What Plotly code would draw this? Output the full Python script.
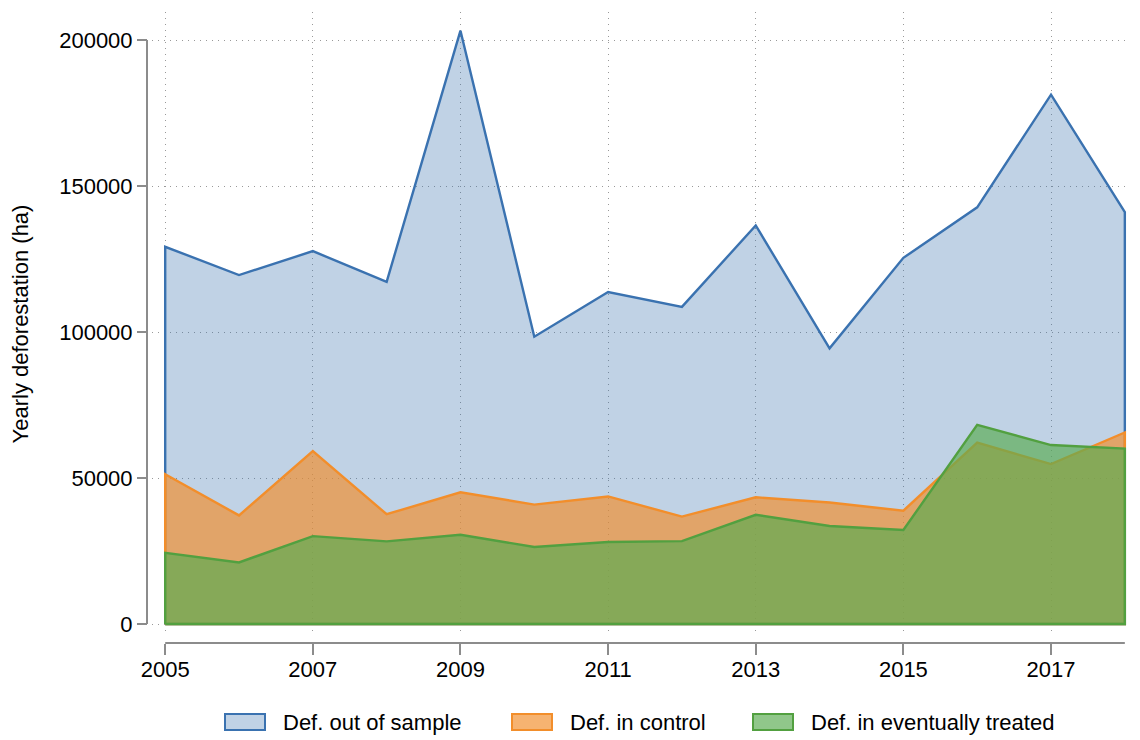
import plotly.graph_objects as go

years = list(range(2005, 2019))

# yearly deforestation (ha)
out_of_sample = [129200, 119500, 127700, 117200, 203200, 98400, 113700,
                 108600, 136500, 94400, 125400, 142700, 181300, 141100]
in_control = [51300, 37200, 59200, 37600, 45100, 40900, 43700,
              36800, 43400, 41600, 38800, 62100, 54800, 65600]
eventually_treated = [24400, 21100, 30100, 28300, 30600, 26400, 28100,
                      28400, 37400, 33600, 32200, 68200, 61300, 60100]

names = ["Def. out of sample", "Def. in control", "Def. in eventually treated"]
line_colors = ["#3A72B0", "#F28E2B", "#52A040"]
fill_colors = ["rgba(60,114,173,0.32)", "rgba(242,142,43,0.67)", "rgba(89,172,80,0.67)"]

xticks = list(range(2005, 2018, 2))
yticks = [0, 50000, 100000, 150000, 200000]

font = "Liberation Sans, Arial, sans-serif"
axis_grey = "#8C8C8C"
grid_grey = "#999999"

# page has an 8px body margin, so the figure is a bit smaller than the window
PAD = 8
W, H = 1140 - PAD, 740 - PAD
ML, MR, MT, MB = 139, 10, 4, 97


def px_x(px):
    # window pixel -> paper x
    return (px - PAD - ML) / (W - ML - MR)


def px_y(py):
    # window pixel -> paper y
    return (H - MB - (py - PAD)) / (H - MT - MB)


fig = go.Figure()
for name, vals, lc, fc in zip(names, [out_of_sample, in_control, eventually_treated],
                              line_colors, fill_colors):
    # closed outline down to zero, like a Stata area plot
    xs = [years[0]] + years + [years[-1], years[0]]
    ys = [0] + vals + [0, 0]
    fig.add_trace(go.Scatter(x=xs, y=ys, name=name, mode="lines",
                             fill="toself", fillcolor=fc, showlegend=False,
                             line=dict(color=lc, width=2.4)))

# offset axis lines
fig.add_shape(type="line", xref="paper", yref="y", x0=0, x1=0,
              y0=yticks[0], y1=yticks[-1], line=dict(color=axis_grey, width=2))
fig.add_shape(type="line", xref="x", yref="paper", x0=years[0], x1=years[-1],
              y0=0, y1=0, line=dict(color=axis_grey, width=2))

# legend below the plot: bordered swatches + labels
swatch_left = [225, 512, 753]
for left, name, lc, fc in zip(swatch_left, names, line_colors, fill_colors):
    fig.add_shape(type="rect", xref="paper", yref="paper",
                  x0=px_x(left), x1=px_x(left + 40), y0=px_y(730), y1=px_y(714),
                  fillcolor=fc, line=dict(color=lc, width=2))
    fig.add_annotation(xref="paper", yref="paper", x=px_x(left + 56), y=px_y(722),
                       xanchor="left", yanchor="middle", text=name, showarrow=False,
                       font=dict(size=22, color="black"))

fig.update_layout(
    width=W, height=H,
    margin=dict(l=ML, r=MR, t=MT, b=MB),
    paper_bgcolor="white", plot_bgcolor="white",
    font=dict(family=font, color="black", size=22),
    showlegend=False,
    xaxis=dict(domain=[0.005, 1], range=[2004.82, 2018.07], anchor="free", position=0,
               tickvals=xticks, ticks="outside", ticklen=11, tickwidth=2, tickcolor=axis_grey,
               showline=False, zeroline=False, showgrid=True, gridcolor=grid_grey,
               griddash="1px,5px", gridwidth=1, tickfont=dict(size=22), automargin=False,
               ticklabelstandoff=-4),
    yaxis=dict(domain=[0.011, 1], range=[-4110, 209590], anchor="free", position=0,
               tickvals=yticks, tickformat="d", ticks="outside", ticklen=10, tickwidth=2,
               tickcolor=axis_grey, showline=False, zeroline=False, showgrid=True,
               gridcolor=grid_grey, griddash="1px,5px", gridwidth=1, tickfont=dict(size=22),
               automargin=False,
               title=dict(text="Yearly deforestation (ha)", standoff=28, font=dict(size=22))),
)

fig.write_html("out.html")
